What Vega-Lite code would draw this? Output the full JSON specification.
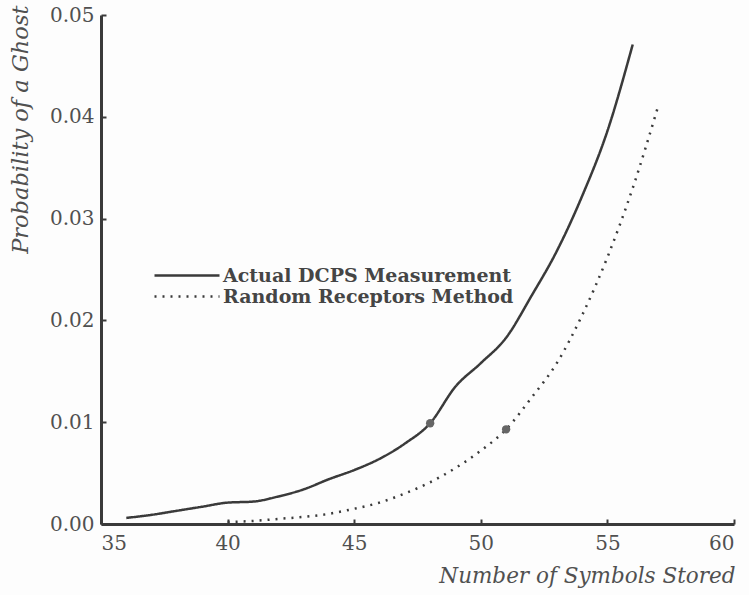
{
  "$schema": "https://vega.github.io/schema/vega-lite/v6.json",
  "width": 633,
  "height": 509,
  "autosize": {"type": "none"},
  "padding": {"left": 101, "top": 15, "right": 15, "bottom": 71},
  "background": "#fdfdfd",
  "config": {
    "view": {"stroke": null},
    "font": "DejaVu Serif",
    "axis": {
      "domainColor": "#3a3a3a",
      "domainWidth": 3,
      "tickColor": "#3a3a3a",
      "tickWidth": 2,
      "grid": false,
      "labelFont": "DejaVu Serif",
      "labelFontSize": 20,
      "labelColor": "#505050",
      "titleFont": "DejaVu Serif",
      "titleFontStyle": "italic",
      "titleFontWeight": "normal",
      "titleFontSize": 21.5,
      "titleColor": "#505050"
    }
  },
  "datasets": {
    "curves": [
      {"n": 36, "p": 0.0006, "series": "Actual DCPS Measurement"},
      {"n": 37, "p": 0.0009, "series": "Actual DCPS Measurement"},
      {"n": 38, "p": 0.0013, "series": "Actual DCPS Measurement"},
      {"n": 39, "p": 0.0017, "series": "Actual DCPS Measurement"},
      {"n": 40, "p": 0.0021, "series": "Actual DCPS Measurement"},
      {"n": 41, "p": 0.0022, "series": "Actual DCPS Measurement"},
      {"n": 42, "p": 0.0027, "series": "Actual DCPS Measurement"},
      {"n": 43, "p": 0.0034, "series": "Actual DCPS Measurement"},
      {"n": 44, "p": 0.0044, "series": "Actual DCPS Measurement"},
      {"n": 45, "p": 0.0053, "series": "Actual DCPS Measurement"},
      {"n": 46, "p": 0.0064, "series": "Actual DCPS Measurement"},
      {"n": 47, "p": 0.0079, "series": "Actual DCPS Measurement"},
      {"n": 48, "p": 0.0099, "series": "Actual DCPS Measurement"},
      {"n": 49, "p": 0.0135, "series": "Actual DCPS Measurement"},
      {"n": 50, "p": 0.0158, "series": "Actual DCPS Measurement"},
      {"n": 51, "p": 0.0183, "series": "Actual DCPS Measurement"},
      {"n": 52, "p": 0.0224, "series": "Actual DCPS Measurement"},
      {"n": 53, "p": 0.0268, "series": "Actual DCPS Measurement"},
      {"n": 54, "p": 0.0322, "series": "Actual DCPS Measurement"},
      {"n": 55, "p": 0.0386, "series": "Actual DCPS Measurement"},
      {"n": 56, "p": 0.0471, "series": "Actual DCPS Measurement"},
      {"n": 40, "p": 0.0002, "series": "Random Receptors Method"},
      {"n": 41, "p": 0.0003, "series": "Random Receptors Method"},
      {"n": 42, "p": 0.0005, "series": "Random Receptors Method"},
      {"n": 43, "p": 0.0007, "series": "Random Receptors Method"},
      {"n": 44, "p": 0.0010, "series": "Random Receptors Method"},
      {"n": 45, "p": 0.0015, "series": "Random Receptors Method"},
      {"n": 46, "p": 0.0021, "series": "Random Receptors Method"},
      {"n": 47, "p": 0.0030, "series": "Random Receptors Method"},
      {"n": 48, "p": 0.0041, "series": "Random Receptors Method"},
      {"n": 49, "p": 0.0055, "series": "Random Receptors Method"},
      {"n": 50, "p": 0.0072, "series": "Random Receptors Method"},
      {"n": 51, "p": 0.0093, "series": "Random Receptors Method"},
      {"n": 52, "p": 0.0124, "series": "Random Receptors Method"},
      {"n": 53, "p": 0.0158, "series": "Random Receptors Method"},
      {"n": 54, "p": 0.0205, "series": "Random Receptors Method"},
      {"n": 55, "p": 0.0262, "series": "Random Receptors Method"},
      {"n": 56, "p": 0.0330, "series": "Random Receptors Method"},
      {"n": 57, "p": 0.0410, "series": "Random Receptors Method"}
    ],
    "marks": [
      {"n": 48, "p": 0.0099},
      {"n": 51, "p": 0.0093}
    ]
  },
  "layer": [
    {
      "data": {"name": "curves"},
      "mark": {"type": "line", "strokeWidth": 2.5, "interpolate": "monotone", "color": "#3a3a3a"},
      "encoding": {
        "x": {
          "field": "n", "type": "quantitative",
          "scale": {"domain": [35, 60], "nice": false},
          "axis": {
            "values": [35, 40, 45, 50, 55, 60],
            "title": "Number of Symbols Stored",
            "tickSize": -5,
            "labelPadding": 14,
            "titleAnchor": "end",
            "titleAlign": "right",
            "titleX": 634,
            "titleY": 52,
            "titleBaseline": "middle"
          }
        },
        "y": {
          "field": "p", "type": "quantitative",
          "scale": {"domain": [0, 0.05], "nice": false},
          "axis": {
            "values": [0, 0.01, 0.02, 0.03, 0.04, 0.05],
            "format": ".2f",
            "title": "Probability of a Ghost",
            "tickSize": -5,
            "labelPadding": 12,
            "titleAngle": -90,
            "titleAlign": "right",
            "titleBaseline": "middle",
            "titleFontSize": 22.5,
            "titleX": -81,
            "titleY": -10
          }
        },
        "strokeDash": {
          "field": "series", "type": "nominal",
          "scale": {"domain": ["Actual DCPS Measurement", "Random Receptors Method"], "range": [[1, 0], [2, 6]]},
          "legend": {
            "title": null,
            "orient": "none",
            "legendX": 52,
            "legendY": 250,
            "symbolType": "stroke",
            "symbolSize": 4225,
            "symbolStrokeWidth": 2.5,
            "symbolStrokeColor": "#3a3a3a",
            "labelFont": "DejaVu Serif",
            "labelFontWeight": "bold",
            "labelFontSize": 19,
            "labelColor": "#454545",
            "labelLimit": 0,
            "labelOffset": 2,
            "clipHeight": 21,
            "rowPadding": 0
          }
        }
      }
    },
    {
      "data": {"name": "marks"},
      "mark": {"type": "circle", "size": 70, "color": "#666666", "opacity": 1},
      "encoding": {
        "x": {"field": "n", "type": "quantitative"},
        "y": {"field": "p", "type": "quantitative"}
      }
    }
  ]
}
